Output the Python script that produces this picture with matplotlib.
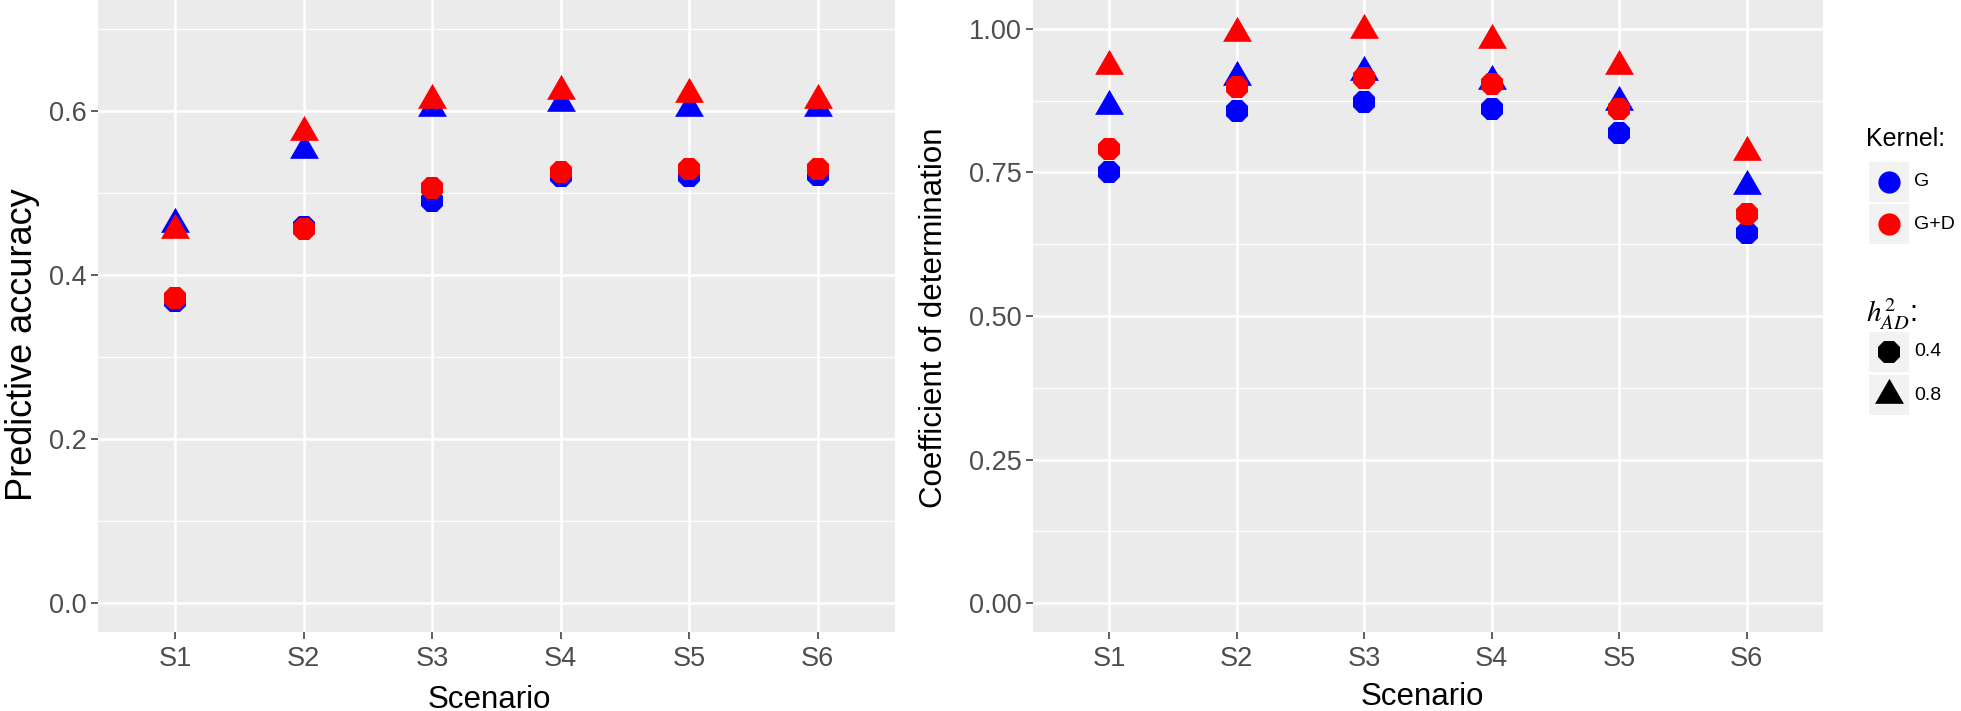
from __future__ import annotations

import matplotlib

matplotlib.use("Agg")
import matplotlib.pyplot as plt
from matplotlib.path import Path as MPath

plt.rcParams["font.family"] = ["Liberation Sans", "DejaVu Sans"]
plt.rcParams["mathtext.fontset"] = "stix"

SCENARIOS = ["S1", "S2", "S3", "S4", "S5", "S6"]

# predictive accuracy
ACC_G_04 = [0.368, 0.458, 0.490, 0.520, 0.520, 0.522]
ACC_GD_04 = [0.372, 0.456, 0.506, 0.525, 0.529, 0.529]
ACC_G_08 = [0.462, 0.552, 0.604, 0.609, 0.604, 0.604]
ACC_GD_08 = [0.455, 0.574, 0.613, 0.624, 0.621, 0.613]

# coefficient of determination
R2_G_04 = [0.750, 0.857, 0.873, 0.861, 0.819, 0.645]
R2_GD_04 = [0.791, 0.899, 0.914, 0.903, 0.861, 0.677]
R2_G_08 = [0.865, 0.916, 0.924, 0.909, 0.873, 0.726]
R2_GD_08 = [0.935, 0.992, 0.998, 0.980, 0.935, 0.786]

KERNELS = ["G", "G+D"]
HERIT = ["0.4", "0.8"]
COLORS = {"G": "#0000FF", "G+D": "#FF0000"}

TRI = MPath([(-1.0, -0.577), (1.0, -0.577), (0.0, 1.155), (-1.0, -0.577)],
            [MPath.MOVETO, MPath.LINETO, MPath.LINETO, MPath.CLOSEPOLY])
SHAPES = {"0.4": ("8", 17), "0.8": (TRI, 24)}

W, H = 1961, 711


def style_axis(ax, ylim, major, minor, fmt):
    ax.set_facecolor("#EBEBEB")
    for s in ax.spines.values():
        s.set_visible(False)
    ax.set_xlim(0.4, 6.6)
    ax.set_ylim(*ylim)
    ax.set_xticks(range(1, 7))
    ax.set_xticklabels(SCENARIOS)
    ax.set_yticks(major)
    ax.set_yticklabels([fmt.format(v) for v in major])
    ax.set_yticks(minor, minor=True)
    ax.tick_params(axis="y", which="minor", length=0)
    ax.tick_params(which="major", length=5, width=1.1, color="#333333",
                   labelsize=19.5, labelcolor="#4D4D4D")
    ax.tick_params(axis="x", pad=5)
    ax.tick_params(axis="y", pad=3)
    ax.grid(True, which="major", color="white", linewidth=1.8)
    ax.grid(True, which="minor", axis="y", color="white", linewidth=0.9)
    ax.set_axisbelow(True)


def set_labels(ax, ylabel, ysize, ypos, xpos):
    ax.set_xlabel("Scenario", fontsize=22.5)
    ax.xaxis.label.set_va("baseline")
    ax.xaxis.set_label_coords(*xpos)
    ax.set_ylabel(ylabel, fontsize=ysize)
    ax.yaxis.label.set_va("center")
    ax.yaxis.set_label_coords(*ypos)


def draw_points(ax, series):
    for kernel in KERNELS:
        for h in HERIT:
            marker, ms = SHAPES[h]
            ax.plot(range(1, 7), series[(kernel, h)], linestyle="none",
                    marker=marker, markersize=ms, color=COLORS[kernel],
                    markeredgewidth=0, zorder=3)


def key_box(x, y, marker, ms, color):
    kax = fig.add_axes([(x - 20) / W, 1 - (y + 20) / H, 40 / W, 40 / H])
    kax.set_facecolor("#F2F2F2")
    kax.set_xticks([])
    kax.set_yticks([])
    for s in kax.spines.values():
        s.set_visible(False)
    kax.set_xlim(0, 1)
    kax.set_ylim(0, 1)
    kax.plot([0.5], [0.5], marker=marker, markersize=ms, color=color,
             markeredgewidth=0, linestyle="none")


fig = plt.figure(figsize=(W / 100, H / 100), dpi=100)

ax1 = fig.add_axes([98 / W, 79 / H, (895 - 98) / W, 632 / H])
style_axis(ax1, (-0.035, 0.735), [0.0, 0.2, 0.4, 0.6], [0.1, 0.3, 0.5, 0.7], "{:.1f}")
draw_points(ax1, {("G", "0.4"): ACC_G_04, ("G+D", "0.4"): ACC_GD_04,
                  ("G", "0.8"): ACC_G_08, ("G+D", "0.8"): ACC_GD_08})
set_labels(ax1, "Predictive accuracy", 26, (-0.095, 0.454), (0.4906, -0.120))

ax2 = fig.add_axes([1033 / W, 79 / H, (1823 - 1033) / W, 632 / H])
style_axis(ax2, (-0.05, 1.05), [0.0, 0.25, 0.5, 0.75, 1.0],
           [0.125, 0.375, 0.625, 0.875], "{:.2f}")
draw_points(ax2, {("G", "0.4"): R2_G_04, ("G+D", "0.4"): R2_GD_04,
                  ("G", "0.8"): R2_G_08, ("G+D", "0.8"): R2_GD_08})
set_labels(ax2, "Coefficient of determination", 22.5, (-0.125, 0.497), (0.4924, -0.1155))

# legends
fig.text(1866 / W, 1 - 139 / H, "Kernel:", fontsize=18, va="center", ha="left")
for i, kernel in enumerate(KERNELS):
    yc = 182 + i * 42
    key_box(1889, yc, "o", 16, COLORS[kernel])
    fig.text(1914 / W, 1 - yc / H, kernel, fontsize=14, va="center", ha="left")

fig.text(1866 / W, 1 - 314 / H, r"$h^2_{AD}$:", fontsize=21, va="center", ha="left")
for i, h in enumerate(HERIT):
    yc = 352 + i * 43
    marker, ms = SHAPES[h]
    key_box(1889, yc, marker, ms, "black")
    fig.text(1914 / W, 1 - yc / H, h, fontsize=14, va="center", ha="left")

fig.savefig("out.png", dpi=100)
plt.close(fig)
